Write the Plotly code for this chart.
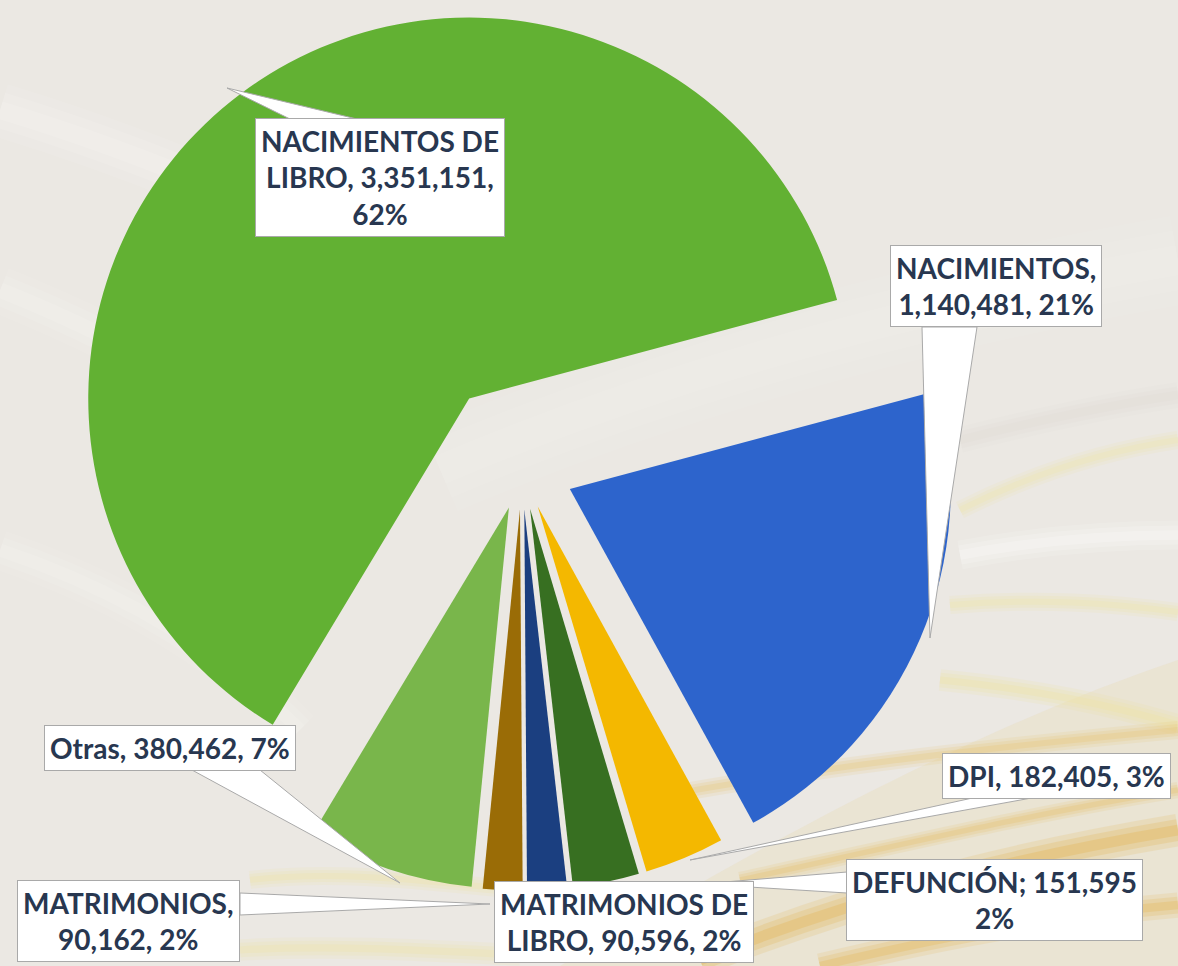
import plotly.graph_objects as go

# ---------------- data ----------------
labels = ["NACIMIENTOS", "DPI", "DEFUNCIÓN", "MATRIMONIOS DE LIBRO",
          "MATRIMONIOS", "Otras", "NACIMIENTOS DE LIBRO"]
values = [1140481, 182405, 151595, 90596, 90162, 380462, 3351151]
pct_shown = [21, 3, 2, 2, 2, 7, 62]

# ---------------- style ----------------
colors = ["#2d64cc", "#f4b800", "#376f21", "#1b3f80", "#9a6c06", "#79b64b", "#62b133"]
pulls = [0.137, 0.108, 0.108, 0.108, 0.108, 0.108, 0.23]
templates = ["{n},<br>{v}, {p}%", "{n}, {v}, {p}%", "{n}; {v}<br>{p}%",
             "{n}, {v}, {p}%", "{n},<br>{v}, {p}%", "{n}, {v}, {p}%",
             "{n}, {v},<br>{p}%"]
# label box centres (px) and callout pointer (base1, base2, tip) in px
box_pos = [(996, 286), (1056, 776), (994, 900), (624, 922),
           (128, 921), (170, 748), (380, 178)]
pointers = [
    [(922, 327), (977, 327), (930, 638)],
    [(977, 797), (1037, 797), (690, 860)],
    [(847, 872), (847, 893), (700, 884)],
    None,
    [(240, 893), (240, 915), (490, 904)],
    [(192, 770), (260, 770), (400, 883)],
    [(290, 119), (357, 119), (227, 88)],
]

W, H = 1178, 966


def fx(x):
    return x / W


def fy(y):
    return 1 - y / H


fig = go.Figure()
fig.add_trace(go.Pie(
    labels=labels, values=values, sort=False, direction="clockwise",
    rotation=75, pull=pulls, textinfo="none",
    marker=dict(colors=colors, line=dict(width=0)),
    domain=dict(x=[0.045, 0.841], y=[0.03, 1]),
    showlegend=False,
))

shapes = []
# ---- background decoration ----
bg = [
    dict(path=f"M {fx(560)},{fy(966)} C {fx(800)},{fy(820)} {fx(1000)},{fy(720)} {fx(1178)},{fy(660)} L {fx(1178)},{fy(966)} Z",
         fillcolor="#eadfc4", opacity=0.5, line=dict(width=0)),
]
streaks = [
    (0, 110, 200, 170, 350, 250, 520, 320, 30, "#f6f4f1", 0.5),
    (0, 290, 150, 350, 260, 420, 380, 510, 26, "#f6f4f1", 0.45),
    (0, 550, 120, 590, 220, 650, 300, 730, 22, "#f6f4f1", 0.45),
    (440, 470, 700, 360, 950, 300, 1178, 260, 50, "#f4f2ee", 0.35),
    (960, 510, 1040, 470, 1110, 450, 1178, 440, 10, "#efe6ae", 0.55),
    (950, 605, 1040, 598, 1110, 603, 1178, 612, 10, "#efe6ae", 0.6),
    (940, 680, 1040, 690, 1110, 705, 1178, 725, 12, "#efe3a6", 0.6),
    (960, 440, 1040, 420, 1110, 405, 1178, 395, 14, "#dcd8d2", 0.35),
    (960, 555, 1040, 540, 1110, 535, 1178, 535, 16, "#ffffff", 0.45),
    (700, 960, 850, 900, 1000, 860, 1178, 830, 18, "#e3ad3c", 0.5),
    (820, 966, 950, 935, 1060, 915, 1178, 905, 14, "#e3ad3c", 0.45),
    (640, 800, 800, 770, 960, 750, 1178, 730, 10, "#e8bf5e", 0.4),
    (740, 880, 900, 845, 1050, 810, 1178, 790, 9, "#e6b850", 0.4),
    (250, 880, 330, 870, 420, 880, 520, 890, 10, "#f0e4a0", 0.45),
    (240, 950, 330, 945, 420, 950, 520, 955, 12, "#f0e4a0", 0.45),
]
for (x0, y0, cx1, cy1, cx2, cy2, x1, y1, w, c, o) in streaks:
    p = f"M {fx(x0)},{fy(y0)} C {fx(cx1)},{fy(cy1)} {fx(cx2)},{fy(cy2)} {fx(x1)},{fy(y1)}"
    for k, f in ((1.8, 0.3), (1.2, 0.4), (0.6, 0.5)):
        bg.append(dict(path=p, line=dict(color=c, width=w * k), opacity=o * f))
for b in bg:
    b.update(type="path", xref="paper", yref="paper", layer="below")
    shapes.append(b)

# ---- callout pointers ----
for p in pointers:
    if p is None:
        continue
    (x1, y1), (x2, y2), (x3, y3) = p
    shapes.append(dict(
        type="path", xref="paper", yref="paper", layer="above",
        path=f"M {fx(x1)},{fy(y1)} L {fx(x3)},{fy(y3)} L {fx(x2)},{fy(y2)} Z",
        fillcolor="white", line=dict(color="#a9a9a9", width=1),
    ))

annotations = []
for i, name in enumerate(labels):
    text = templates[i].format(n=name.replace(" DE ", " DE<br>"),
                               v=f"{values[i]:,}", p=pct_shown[i])
    bx, by = box_pos[i]
    annotations.append(dict(
        text=text, x=fx(bx), y=fy(by), xref="paper", yref="paper",
        xanchor="center", yanchor="middle", showarrow=False, align="center",
        bgcolor="white", bordercolor="#a9a9a9", borderwidth=1, borderpad=5,
        font=dict(family="Lato", size=28, color="#283750", weight="bold"),
    ))

fig.update_layout(
    width=W, height=H, margin=dict(l=0, r=0, t=0, b=0),
    paper_bgcolor="#ebe8e3", plot_bgcolor="#ebe8e3",
    shapes=shapes, annotations=annotations,
)

fig.write_html("out.html", config={"displayModeBar": False},
               post_script="document.body.style.margin='0';document.body.style.overflow='hidden';")
